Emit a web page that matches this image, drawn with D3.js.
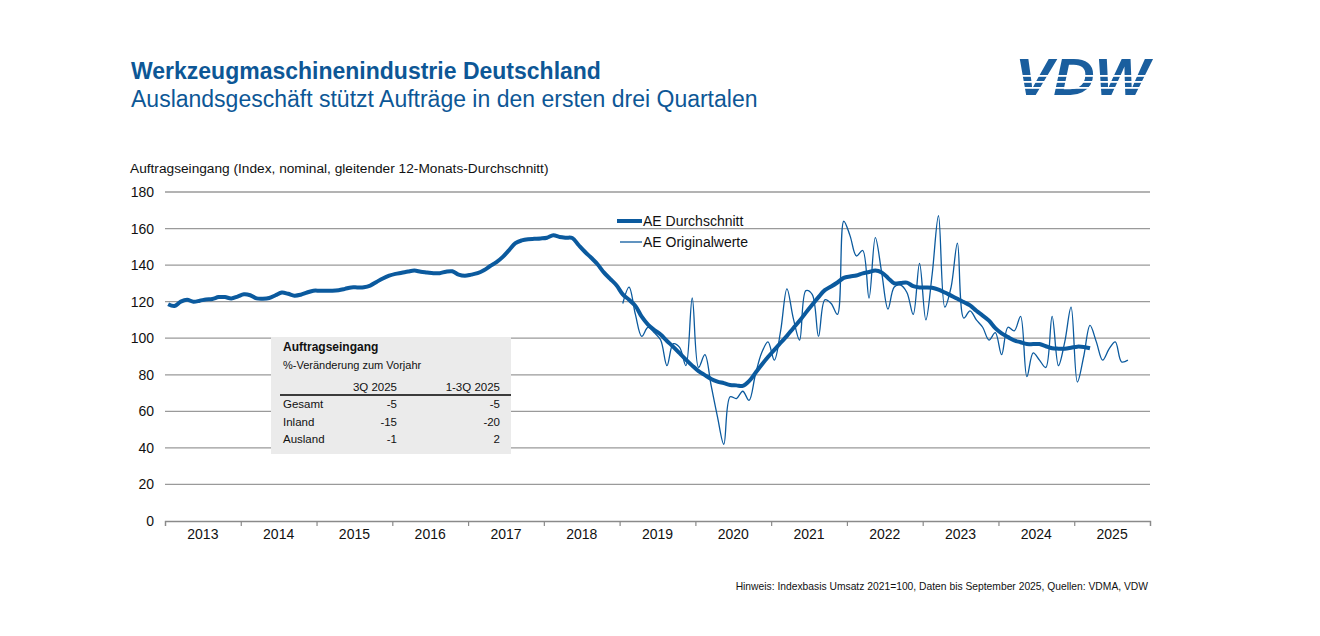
<!DOCTYPE html>
<html><head><meta charset="utf-8">
<script src="https://cdn.jsdelivr.net/npm/d3@7"></script>
<style>
html,body{margin:0;padding:0;background:#fff;}
svg{display:block;font-family:"Liberation Sans",Arial,sans-serif;}
</style></head>
<body><svg id="c" width="1320" height="636"></svg>
<script>
// ---- data ----
const years = ["2013","2014","2015","2016","2017","2018","2019","2020","2021","2022","2023","2024","2025"];
const yTicks = [0,20,40,60,80,100,120,140,160,180];
// AE Durchschnitt, monthly from Jan 2013 (centered 12-month moving average)
const avgValues = [
118.6,117.6,120,121,120,120.5,121.2,121.5,122.5,122.5,121.8,122.8,
124,123.5,121.8,121.6,122,123.5,125,124.3,123.3,123.8,125,126,
126,126,126,126.3,127,127.8,127.8,127.9,128.8,130.8,132.7,134.2,
135.2,135.8,136.5,137,136.4,136,135.6,135.6,136.4,136.6,134.8,134.2,
134.8,135.6,137.2,139.5,141.6,144.5,148.2,152,153.5,154.2,154.4,154.6,
155,156.3,155.4,155,154.8,151,147.3,144,140.5,136,132.5,129,
124,121,117.7,111.8,107.5,104.5,102,98.5,95.3,91.8,88.3,85,
82,79.8,77.7,76.3,75.4,74.4,74.2,73.9,76.5,81,85.5,89.7,
93.6,97.5,101.3,105.5,109.5,114,118.3,122.5,126.3,128.3,130.5,133,
133.8,134.3,135.5,136.2,137,136,133,130,130.2,130.4,128.5,127.8,
127.8,127.6,126.6,125,123.3,121.6,119.8,118,115,112.4,109.6,105.5,
102.6,100.6,98.8,97.8,96.8,96.8,96.8,95.6,94.5,94.3,94.3,94.8,
95.4,95.2,94.5];
// AE Originalwerte, monthly from Jan 2019 to Sep 2025
const origStartMonth = 72;
const origValues = [
119,128,113,101,106,103,99,85,97,95,85,122,
84,91,74,57,42,68,67,71,66,80,92,98,
88,104,127,111,99,126,124,101,121,119,113,164,
156,145,148,122,155,136,116,128,129,125,113,141,
110,135,167,117,128,152,111,115,110,106,99,103,
91,106,104,112,79,92,88,84,112,85,98,117,
76,90,107,98,88,94,98,87,88];
const legendLabels = ["AE Durchschnitt","AE Originalwerte"];
const tableRows = ["Gesamt","Inland","Ausland"];
const tableCols = ["3Q 2025","1-3Q 2025"];
const tableQ3 = [-5,-15,-1];
const tableYtd = [-5,-20,2];

// ---- drawing ----
const blue = "#0b5a9e";
const svg = d3.select("#c");
const x = d3.scaleLinear().domain([0, 156]).range([165, 1150]);
const y = d3.scaleLinear().domain([0, 180]).range([521, 192]);

// titles
svg.append("text").attr("x",131).attr("y",79).attr("fill","#0d5796")
  .attr("font-size",23).attr("font-weight","bold").text("Werkzeugmaschinenindustrie Deutschland");
svg.append("text").attr("x",131).attr("y",107).attr("fill","#0d5796")
  .attr("font-size",23).text("Auslandsgeschäft stützt Aufträge in den ersten drei Quartalen");

// logo
const logo = svg.append("g");
logo.append("text").attr("x",1015).attr("y",95).attr("fill","#1a5e9e")
  .attr("font-size",52).attr("font-weight","900").attr("font-style","italic")
  .attr("textLength",134).attr("lengthAdjust","spacingAndGlyphs").text("VDW");
[75,81,87].forEach(v=>logo.append("rect").attr("x",1010).attr("y",v).attr("width",145).attr("height",1.8).attr("fill","#fff"));

// axis title
svg.append("text").attr("x",130).attr("y",173).attr("font-size",13.7).attr("fill","#111")
  .text("Auftragseingang (Index, nominal, gleitender 12-Monats-Durchschnitt)");

// gridlines
svg.append("g").selectAll("line").data(yTicks.filter(d=>d>0)).join("line")
  .attr("x1",165).attr("x2",1150).attr("y1",d=>y(d)).attr("y2",d=>y(d))
  .attr("stroke","#9a9a9a").attr("stroke-width",1.3);

// y labels
svg.append("g").selectAll("text").data(yTicks).join("text")
  .attr("x",154).attr("y",d=>y(d)+5).attr("text-anchor","end").attr("font-size",14).attr("fill","#111")
  .text(d=>d);

// x axis
const xAxis = d3.axisBottom(x).tickValues(d3.range(0,157,12)).tickSize(5).tickFormat("");
const gx = svg.append("g").attr("transform","translate(0,521)").call(xAxis);
gx.select(".domain").attr("stroke","#8a8a8a").attr("stroke-width",1.3);
gx.selectAll(".tick line").attr("stroke","#8a8a8a").attr("stroke-width",1.2);
svg.append("g").selectAll("text").data(years).join("text")
  .attr("x",(d,i)=>x(i*12+6)).attr("y",539).attr("text-anchor","middle").attr("font-size",14).attr("fill","#111")
  .text(d=>d);

// table box
const tb = svg.append("g");
tb.append("rect").attr("x",271).attr("y",337).attr("width",240).attr("height",117).attr("fill","#ebebeb");
tb.append("text").attr("x",283).attr("y",351).attr("font-size",12).attr("font-weight","bold").attr("fill","#111").text("Auftragseingang");
tb.append("text").attr("x",283).attr("y",369).attr("font-size",11).attr("fill","#111").text("%-Veränderung zum Vorjahr");
tb.append("text").attr("x",397).attr("y",391).attr("font-size",11.5).attr("text-anchor","end").attr("fill","#111").text(tableCols[0]);
tb.append("text").attr("x",500).attr("y",391).attr("font-size",11.5).attr("text-anchor","end").attr("fill","#111").text(tableCols[1]);
tb.append("line").attr("x1",280).attr("x2",511).attr("y1",395).attr("y2",395).attr("stroke","#000").attr("stroke-width",1.3);
tableRows.forEach((r,i)=>{
  const yy = 408 + i*17.5;
  tb.append("text").attr("x",283).attr("y",yy).attr("font-size",11.5).attr("fill","#111").text(r);
  tb.append("text").attr("x",397).attr("y",yy).attr("font-size",11.5).attr("text-anchor","end").attr("fill","#111").text(tableQ3[i]);
  tb.append("text").attr("x",500).attr("y",yy).attr("font-size",11.5).attr("text-anchor","end").attr("fill","#111").text(tableYtd[i]);
});

// lines
const line = d3.line().curve(d3.curveCatmullRom.alpha(0.5)).x(d=>x(d.m+0.5)).y(d=>y(d.v));
const origData = origValues.map((v,i)=>({m:origStartMonth+i, v}));
const avgData = avgValues.map((v,i)=>({m:i, v}));
svg.append("path").datum(origData).attr("d",line).attr("fill","none").attr("stroke",blue).attr("stroke-width",1.3);
svg.append("path").datum(avgData).attr("d",line).attr("fill","none").attr("stroke",blue).attr("stroke-width",4).attr("stroke-linejoin","round");

// legend
const lg = svg.append("g");
lg.append("line").attr("x1",617).attr("x2",642).attr("y1",221).attr("y2",221).attr("stroke",blue).attr("stroke-width",4);
lg.append("text").attr("x",643).attr("y",226).attr("font-size",14).attr("fill","#111").text(legendLabels[0]);
lg.append("line").attr("x1",620).attr("x2",642).attr("y1",242).attr("y2",242).attr("stroke",blue).attr("stroke-width",1.3);
lg.append("text").attr("x",643).attr("y",247).attr("font-size",14).attr("fill","#111").text(legendLabels[1]);

// footnote
svg.append("text").attr("x",1148).attr("y",590).attr("text-anchor","end").attr("font-size",10.3).attr("fill","#111")
  .text("Hinweis: Indexbasis Umsatz 2021=100, Daten bis September 2025, Quellen: VDMA, VDW");
</script></body></html>
